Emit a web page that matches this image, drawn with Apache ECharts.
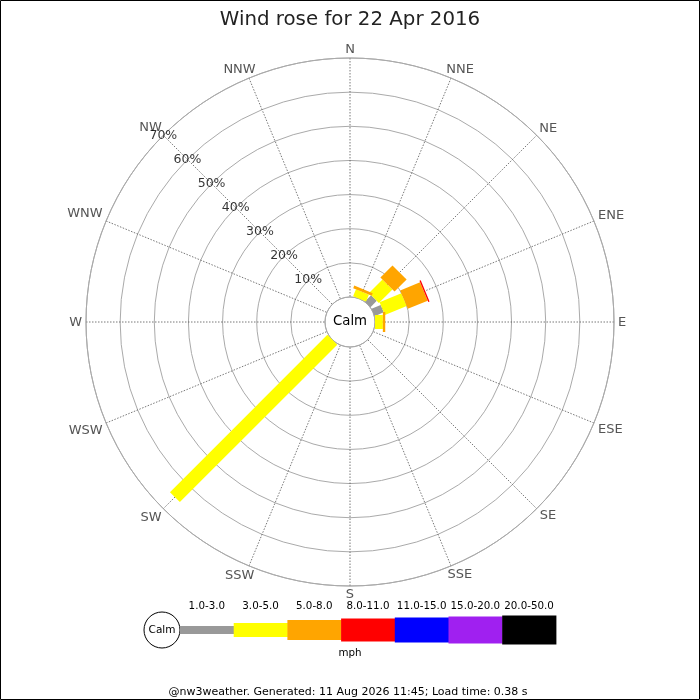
<!DOCTYPE html>
<html>
<head>
<meta charset="utf-8">
<script src="https://cdn.jsdelivr.net/npm/echarts@6/dist/echarts.min.js"></script>
<style>
html,body{margin:0;padding:0;background:#fff;}
#chart{width:700px;height:700px;}
</style>
</head>
<body>
<div id="chart"></div>
<script>
// ---- data ----
const directions = ['N','NNE','NE','ENE','E','ESE','SE','SSE','S','SSW','SW','WSW','W','WNW','NW','NNW'];
const speedBins = ['1.0-3.0','3.0-5.0','5.0-8.0','8.0-11.0','11.0-15.0','15.0-20.0','20.0-50.0'];
// percentage of time per direction for each speed bin (mph)
const pct_1_3   = [0, 0,   2.6, 2.9, 0,   0,0,0,0,0, 0,    0,0,0,0,0];
const pct_3_5   = [0, 2.2, 5.6, 6.9, 2.3, 0,0,0,0,0, 65.2, 0,0,0,0,0];
const pct_5_8   = [0, 0.8, 5.0, 6.3, 0.7, 0,0,0,0,0, 0,    0,0,0,0,0];
const pct_8_11  = [0, 0,   0,   0.4, 0,   0,0,0,0,0, 0,    0,0,0,0,0];
const pct_11_15 = [0,0,0,0,0,0,0,0,0,0,0,0,0,0,0,0];
const pct_15_20 = [0,0,0,0,0,0,0,0,0,0,0,0,0,0,0,0];
const pct_20_50 = [0,0,0,0,0,0,0,0,0,0,0,0,0,0,0,0];
const radiusTicks = [10,20,30,40,50,60,70];
const titleText = 'Wind rose for 22 Apr 2016';
const unitText = 'mph';
const footerText = '@nw3weather. Generated: 11 Aug 2026 11:45; Load time: 0.38 s';

// ---- styles ----
const binColors = ['#999999','#ffff00','#ffa500','#ff0000','#0000ff','#a020f0','#000000'];
const binWidths = [8,14,20,23,25,27,29];
const FONT = 'DejaVu Sans';
const CX = 350, CY = 322, RIN = 25, ROUT = 264;
const STEP = 360 / directions.length;
const RMAX = radiusTicks[radiusTicks.length - 1];

const binSeries = [pct_1_3,pct_3_5,pct_5_8,pct_8_11,pct_11_15,pct_15_20,pct_20_50];

const measureCtx = document.createElement('canvas').getContext('2d');
measureCtx.font = '13px "DejaVu Sans"';

// stack per direction
const cum = directions.map(() => 0);
const series = [];
binSeries.forEach((vals, b) => {
  const data = [];
  vals.forEach((v, i) => {
    const r0 = cum[i];
    const r1 = r0 + v;
    cum[i] = r1;
    if (v > 0) data.push([r0, i * STEP, r1]);
  });
  const w = binWidths[b];
  const col = binColors[b];
  series.push({
    type: 'custom',
    name: speedBins[b],
    coordinateSystem: 'polar',
    polarIndex: 0,
    z: 5,
    silent: true,
    encode: {radius: 0, angle: 1},
    data: data,
    renderItem: function (params, api) {
      const r0 = api.value(0), a = api.value(1), r1 = api.value(2);
      if (!(r1 > r0)) return;
      const p0 = api.coord([r0, a]);
      const p1 = api.coord([r1, a]);
      const cx = params.coordSys.cx, cy = params.coordSys.cy;
      let dx = p1[0] - cx, dy = p1[1] - cy;
      const L = Math.hypot(dx, dy) || 1;
      dx /= L; dy /= L;
      const nx = -dy * w / 2, ny = dx * w / 2;
      return {
        type: 'polygon',
        shape: {points: [
          [p0[0] + nx, p0[1] + ny], [p1[0] + nx, p1[1] + ny],
          [p1[0] - nx, p1[1] - ny], [p0[0] - nx, p0[1] - ny]
        ]},
        style: {fill: col, stroke: null}
      };
    }
  });
});

// compass direction labels just outside the outer ring
series.push({
  type: 'custom',
  coordinateSystem: 'polar',
  polarIndex: 0,
  silent: true,
  z: 6,
  encode: {radius: 0, angle: 1},
  data: directions.map((d, i) => [RMAX, i * STEP]),
  renderItem: function (params, api) {
    const name = directions[params.dataIndex];
    const p = api.coord([api.value(0), api.value(1)]);
    const cx = params.coordSys.cx, cy = params.coordSys.cy;
    let ux = p[0] - cx, uy = p[1] - cy;
    const L = Math.hypot(ux, uy) || 1;
    ux /= L; uy /= L;
    if (Math.abs(ux) < 1e-9) ux = 0;
    if (Math.abs(uy) < 1e-9) uy = 0;
    const tw = measureCtx.measureText(name).width;
    const d = 4 + Math.max(Math.abs(ux) * tw / 2, Math.abs(uy) * 4.5);
    const sx = Math.sign(ux) * Math.abs(uy) * 6;
    return {
      type: 'text',
      x: p[0] + ux * d + sx,
      y: p[1] + uy * d + 0.5,
      style: {text: name, fill: '#555', font: '13px "DejaVu Sans"', textAlign: 'center', textVerticalAlign: 'middle'}
    };
  }
});

// percentage labels along NW spoke
const nwAngle = directions.indexOf('NW') * STEP;
series.push({
  type: 'scatter',
  coordinateSystem: 'polar',
  polarIndex: 0,
  symbolSize: 0,
  silent: true,
  z: 7,
  data: radiusTicks.map(t => [t, nwAngle]),
  label: {
    show: true,
    position: 'inside',
    formatter: p => p.value[0] + '%',
    color: '#000',
    fontSize: 12.5,
    fontFamily: FONT
  }
});

// legend graphics
const legendEls = [];
const LX0 = 180, LBW = 53.7, LY = 630;
legendEls.push({type:'circle', shape:{cx:162, cy:LY, r:18}, style:{fill:'#fff', stroke:'#000', lineWidth:1}, z:100});
legendEls.push({type:'text', x:162, y:LY, style:{text:'Calm', fill:'#000', font:'10.5px "DejaVu Sans"', textAlign:'center', textVerticalAlign:'middle'}, z:101});
speedBins.forEach((lab, b) => {
  const x = LX0 + b * LBW;
  const h = binWidths[b];
  legendEls.push({type:'rect', shape:{x:x, y:LY - h/2, width:LBW + 0.5, height:h}, style:{fill:binColors[b]}, z:100});
  legendEls.push({type:'text', x:x + LBW/2, y:606.5, style:{text:lab, fill:'#000', font:'10.3px "DejaVu Sans"', textAlign:'center', textVerticalAlign:'middle'}, z:101});
});
legendEls.push({type:'text', x:350, y:653, style:{text:unitText, fill:'#000', font:'10.3px "DejaVu Sans"', textAlign:'center', textVerticalAlign:'middle'}, z:101});
legendEls.push({type:'text', x:348, y:692, style:{text:footerText, fill:'#000', font:'11px "DejaVu Sans"', textAlign:'center', textVerticalAlign:'middle'}, z:101});
legendEls.push({type:'text', x:CX, y:CY, style:{text:'Calm', fill:'#000', font:'13.3px "DejaVu Sans"', textAlign:'center', textVerticalAlign:'middle'}, z:101});
legendEls.push({type:'rect', shape:{x:0.5, y:0.5, width:699, height:699}, style:{fill:null, stroke:'#000', lineWidth:1}, z:102});

const chart = echarts.init(document.getElementById('chart'), null, {renderer:'canvas'});
chart.setOption({
  animation: false,
  backgroundColor: '#fff',
  textStyle: {fontFamily: FONT},
  title: {
    text: titleText,
    left: 'center',
    top: 5,
    textStyle: {fontSize: 19.8, fontWeight: 'normal', color: '#222', fontFamily: FONT}
  },
  polar: [{center: [CX, CY], radius: [RIN, ROUT]}],
  angleAxis: [{
    polarIndex: 0,
    type: 'value',
    min: 0,
    max: 360,
    interval: STEP,
    startAngle: 90,
    clockwise: true,
    axisLine: {show: true, lineStyle: {color: '#aaa', width: 1}},
    axisTick: {show: false},
    axisLabel: {show: false},
    splitLine: {show: true, lineStyle: {color: '#555', width: 0.8, type: [1.5, 1.5]}},
    z: 1
  }],
  radiusAxis: [{
    polarIndex: 0,
    type: 'value',
    min: 0,
    max: RMAX,
    interval: 10,
    axisLine: {show: false},
    axisTick: {show: false},
    axisLabel: {show: false},
    splitLine: {show: true, lineStyle: {color: '#aaa', width: 1}},
    z: 1
  }],
  graphic: legendEls,
  series: series
});
</script>
</body>
</html>
